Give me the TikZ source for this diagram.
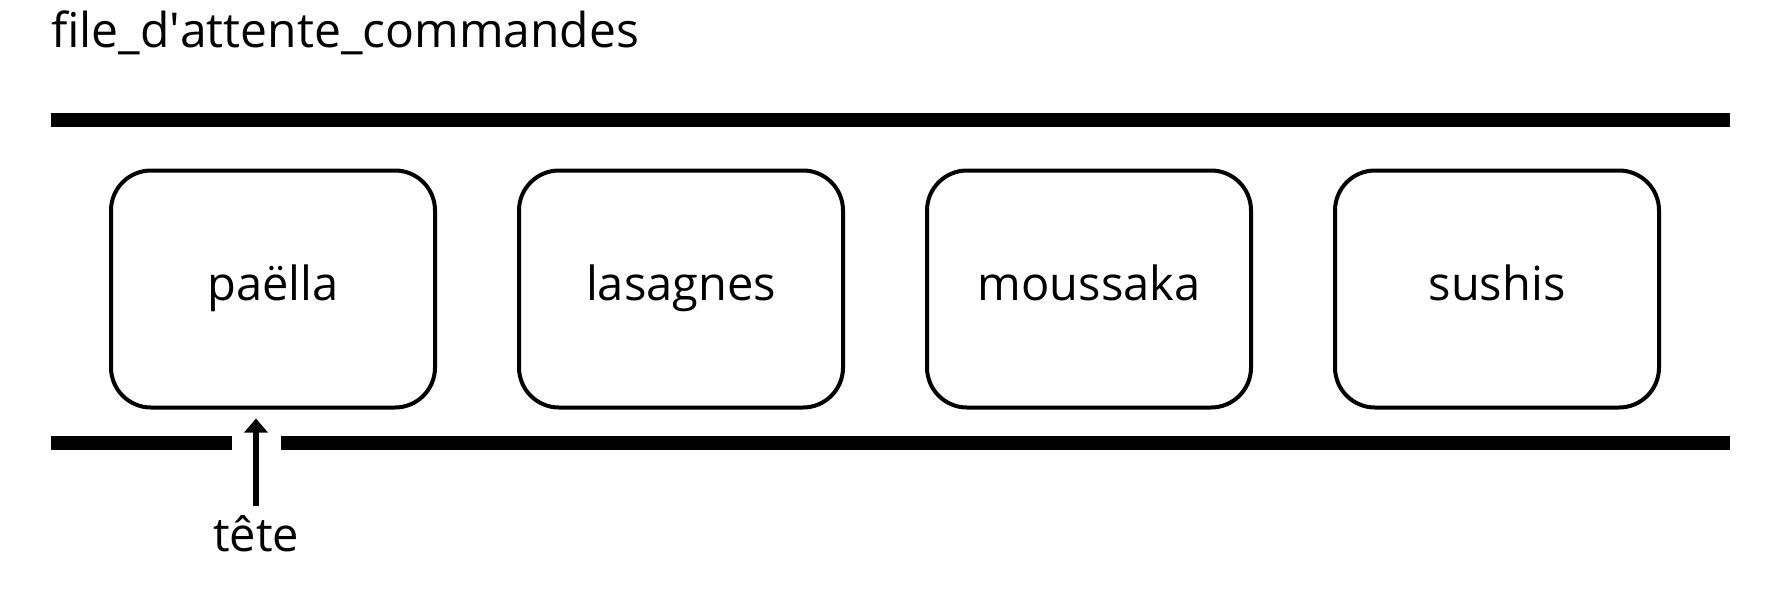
\documentclass[tikz,border=0pt]{standalone}
\usepackage{fontspec}
\setmainfont{Open Sans}
\usetikzlibrary{arrows.meta,positioning}

\begin{document}
\begin{tikzpicture}[
  x=1pt, y=-1pt,
  node distance=80pt,
  dish/.style={rectangle, rounded corners=40pt, draw, line width=4pt, minimum width=324pt, minimum height=237pt, align=center, text height=34pt, text depth=12pt, font=\fontsize{47}{56}\selectfont},
  label/.style={inner sep=0pt, font=\fontsize{47}{56}\selectfont},
  bar/.style={line width=14pt},
  arrow/.style={-{Triangle[length=14pt,width=23pt]}, line width=6pt}
]
\useasboundingbox (0,0) rectangle (1771,592);
\node[anchor=base west, inner sep=0pt, font=\fontsize{48}{58}\selectfont] (title) at (51,47) {file\_d\textquotesingle attente\_commandes};
% the queue walls
\draw[bar] (51,120) -- (1730,120);
\draw[bar] (51,443) -- (232,443);
\draw[bar] (281,443) -- (1730,443);
% the orders
\node[dish] (paella) at (273,289) {paëlla};
\node[dish, right=of paella] (lasagnes) {lasagnes};
\node[dish, right=of lasagnes] (moussaka) {moussaka};
\node[dish, right=of moussaka] (sushis) {sushis};
% head of the queue
\node[label, anchor=base] (tete) at (256,551) {tête};
\draw[arrow, shorten >=9pt] ([yshift=9pt]tete.north) -- (tete.north |- paella.south);
\end{tikzpicture}
\end{document}
